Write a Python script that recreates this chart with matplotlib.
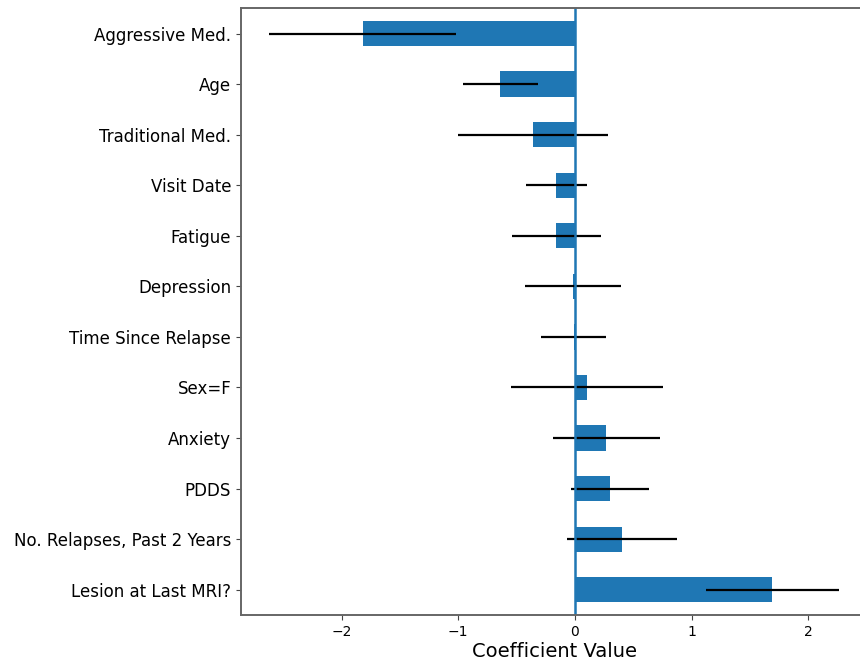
import numpy as np
import matplotlib.pyplot as plt

# coefficients and their error half-widths, top to bottom as drawn
features = ['Aggressive Med.', 'Age', 'Traditional Med.', 'Visit Date', 'Fatigue',
            'Depression', 'Time Since Relapse', 'Sex=F', 'Anxiety', 'PDDS',
            'No. Relapses, Past 2 Years', 'Lesion at Last MRI?']
coef = [-1.82, -0.64, -0.36, -0.16, -0.16, -0.02, -0.01, 0.10, 0.27, 0.30, 0.40, 1.69]
err = [0.80, 0.32, 0.64, 0.26, 0.38, 0.41, 0.28, 0.65, 0.46, 0.33, 0.47, 0.57]

fig = plt.figure(figsize=(8.6, 6.69), dpi=100)
# right edge of the axes sits just past the canvas, as in the cropped original
ax = fig.add_axes([0.2802, 0.0807, 0.74, 0.907])

y = np.arange(len(features))
ax.barh(y, coef, height=0.5, color='#1f77b4', xerr=err,
        error_kw=dict(ecolor='black', elinewidth=1.6, capsize=0))
ax.axvline(0, color='#1f77b4', linewidth=1.8)

ax.set_yticks(y)
ax.set_yticklabels(features, fontsize=12)
ax.set_ylim(len(features) - 0.5, -0.5)
ax.set_xlim(-2.862, 2.591)
ax.set_xticks([-2, -1, 0, 1, 2])
ax.tick_params(axis='x', labelsize=10, color='#444444')
ax.tick_params(axis='y', color='#444444')
ax.set_xlabel('Coefficient Value', fontsize=14, labelpad=2)
ax.xaxis.set_label_coords(0.4926, -0.045)
for s in ax.spines.values():
    s.set_color('#666666')
    s.set_linewidth(1.4)

fig.savefig('out.png', dpi=100)
